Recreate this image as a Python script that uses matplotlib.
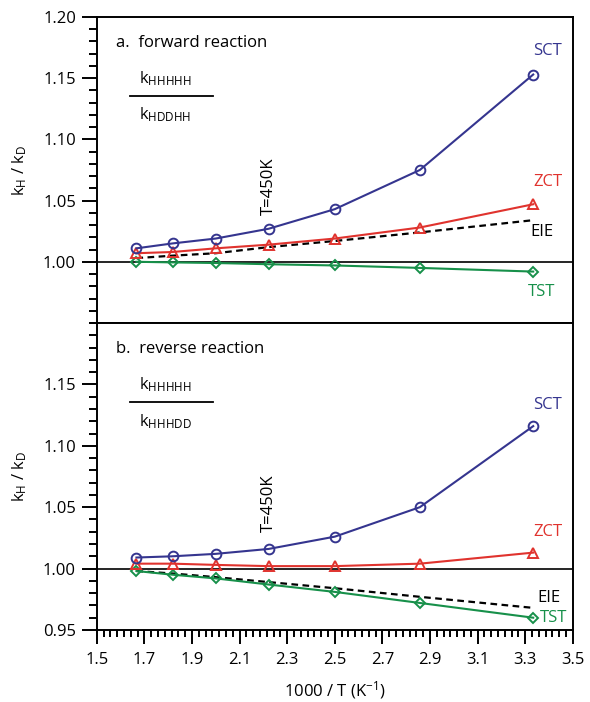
import matplotlib
matplotlib.use("Agg")
import matplotlib.pyplot as plt
from matplotlib.ticker import MultipleLocator, FixedLocator, AutoMinorLocator
from matplotlib.lines import Line2D

plt.rcParams['font.family'] = ['Open Sans', 'DejaVu Sans']
plt.rcParams['mathtext.default'] = 'regular'

# 1000/T for T = 600, 550, 500, 450, 400, 350, 300 K
x = [1000/600, 1000/550, 1000/500, 1000/450, 1000/400, 1000/350, 1000/300]

# panel a: forward reaction
fwd_sct = [1.011, 1.015, 1.019, 1.027, 1.043, 1.075, 1.153]
fwd_zct = [1.007, 1.008, 1.011, 1.014, 1.019, 1.028, 1.047]
fwd_eie = [1.003, 1.005, 1.007, 1.012, 1.017, 1.024, 1.034]
fwd_tst = [1.000, 0.9995, 0.999, 0.998, 0.997, 0.995, 0.992]

# panel b: reverse reaction
rev_sct = [1.009, 1.010, 1.012, 1.016, 1.026, 1.050, 1.116]
rev_zct = [1.004, 1.004, 1.003, 1.002, 1.002, 1.004, 1.013]
rev_eie = [0.998, 0.996, 0.993, 0.989, 0.984, 0.977, 0.968]
rev_tst = [0.998, 0.995, 0.992, 0.987, 0.981, 0.972, 0.960]

x_ticks = [1.5, 1.7, 1.9, 2.1, 2.3, 2.5, 2.7, 2.9, 3.1, 3.3, 3.5]
x_ticklabels = ['1.5', '1.7', '1.9', '2.1', '2.3', '2.5', '2.7', '2.9', '3.1', '3.3', '3.5']
ya_ticks = [1.00, 1.05, 1.10, 1.15, 1.20]
ya_ticklabels = ['1.00', '1.05', '1.10', '1.15', '1.20']
yb_ticks = [0.95, 1.00, 1.05, 1.10, 1.15]
yb_ticklabels = ['0.95', '1.00', '1.05', '1.10', '1.15']

C_SCT = '#35358f'
C_ZCT = '#e0332e'
C_TST = '#17904a'
C_EIE = 'black'

fig = plt.figure(figsize=(5.9, 7.02), dpi=100)
ax1 = fig.add_axes([0.164, 0.5399, 0.807, 0.4359])
ax2 = fig.add_axes([0.164, 0.1026, 0.807, 0.4373])

FS = 12

def draw(ax, sct, zct, eie, tst):
    ax.axhline(1.0, color='black', lw=1.2, zorder=1)
    ax.plot(x, eie, color=C_EIE, lw=1.6, ls=(0, (3, 2)), zorder=2)
    ax.plot(x, tst, color=C_TST, lw=1.5, marker='D', ms=5, mfc='none', mec=C_TST, mew=1.4, zorder=3)
    ax.plot(x, zct, color=C_ZCT, lw=1.5, marker='^', ms=7, mfc='none', mec=C_ZCT, mew=1.4, zorder=3)
    ax.plot(x, sct, color=C_SCT, lw=1.5, marker='o', ms=7, mfc='none', mec=C_SCT, mew=1.4, zorder=4)
    ax.set_xlim(1.5, 3.5)
    ax.set_ylim(0.95, 1.20)
    ax.yaxis.set_minor_locator(MultipleLocator(0.01))
    ax.xaxis.set_major_locator(FixedLocator(x_ticks))
    ax.xaxis.set_minor_locator(AutoMinorLocator(7))
    ax.tick_params(axis='y', which='major', direction='out', length=11, width=1.4, labelsize=FS, pad=4)
    ax.tick_params(axis='y', which='minor', direction='out', length=6, width=1.4)
    ax.tick_params(axis='x', which='major', direction='out', length=10, width=1.4, labelsize=FS, pad=6)
    ax.tick_params(axis='x', which='minor', direction='out', length=5, width=1.4)
    ax.tick_params(top=False, right=False)
    for s in ax.spines.values():
        s.set_linewidth(1.4)
    ax.set_ylabel('k$_{H}$ / k$_{D}$', fontsize=FS, labelpad=10)

draw(ax1, fwd_sct, fwd_zct, fwd_eie, fwd_tst)
draw(ax2, rev_sct, rev_zct, rev_eie, rev_tst)

ax1.yaxis.set_major_locator(FixedLocator(ya_ticks))
ax1.set_yticklabels(ya_ticklabels)
ax1.tick_params(axis='x', which='both', bottom=False, labelbottom=False)
ax2.yaxis.set_major_locator(FixedLocator(yb_ticks))
ax2.set_yticklabels(yb_ticklabels)
ax2.set_xticklabels(x_ticklabels)
ax2.set_xlabel('1000 / T (K$^{-1}$)', fontsize=FS, labelpad=8)

# panel titles and fractions
for ax, title, den in [(ax1, 'a.  forward reaction', 'k$_{HDDHH}$'),
                       (ax2, 'b.  reverse reaction', 'k$_{HHHDD}$')]:
    ax.text(0.04, 0.915, title, transform=ax.transAxes, fontsize=FS, ha='left', va='center')
    ax.text(0.088, 0.80, 'k$_{HHHHH}$', transform=ax.transAxes, fontsize=FS, ha='left', va='center')
    ax.add_line(Line2D([0.07, 0.245], [0.742, 0.742], transform=ax.transAxes, color='black', lw=1.3))
    ax.text(0.088, 0.68, den, transform=ax.transAxes, fontsize=FS, ha='left', va='center')

# temperature annotation
ax1.text(1000/450, 1.038, 'T=450K', rotation=90, ha='center', va='bottom', fontsize=FS)
ax2.text(1000/450, 1.030, 'T=450K', rotation=90, ha='center', va='bottom', fontsize=FS)

# curve labels
ax1.text(3.395, 1.172, 'SCT', color=C_SCT, fontsize=FS, ha='center', va='center')
ax1.text(3.395, 1.065, 'ZCT', color=C_ZCT, fontsize=FS, ha='center', va='center')
ax1.text(3.37, 1.024, 'EIE', color='black', fontsize=FS, ha='center', va='center')
ax1.text(3.37, 0.975, 'TST', color=C_TST, fontsize=FS, ha='center', va='center')

ax2.text(3.395, 1.133, 'SCT', color=C_SCT, fontsize=FS, ha='center', va='center')
ax2.text(3.395, 1.030, 'ZCT', color=C_ZCT, fontsize=FS, ha='center', va='center')
ax2.text(3.40, 0.976, 'EIE', color='black', fontsize=FS, ha='center', va='center')
ax2.text(3.36, 0.960, 'TST', color=C_TST, fontsize=FS, ha='left', va='center')

fig.savefig('out.png', dpi=100)
